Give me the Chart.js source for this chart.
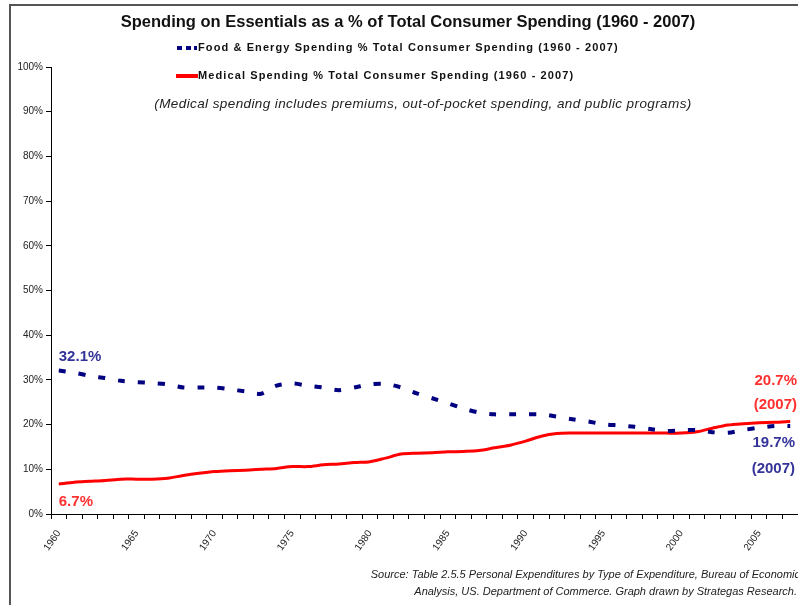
<!DOCTYPE html>
<html>
<head>
<meta charset="utf-8">
<script src="https://cdn.jsdelivr.net/npm/chart.js@4.4.0/dist/chart.umd.min.js"></script>
<style>
  html, body { margin: 0; padding: 0; background: #fff; }
  #wrap { position: relative; width: 798px; height: 605px; }
</style>
</head>
<body>
<div id="wrap"><canvas id="essentialsChart" width="798" height="605"></canvas></div>
<script>
// Dados (1960 - 2007)
const years = [];
for (let y = 1960; y <= 2007; y++) years.push(String(y));

const foodEnergy = [32.1, 31.6, 30.9, 30.4, 29.8, 29.5, 29.3, 29.0, 28.3, 28.3,
                    28.3, 27.9, 27.4, 26.9, 28.7, 29.2, 28.7, 28.3, 27.7, 28.3,
                    29.0, 29.1, 28.3, 27.0, 25.9, 24.8, 23.6, 22.7, 22.3, 22.3,
                    22.3, 22.3, 21.8, 21.2, 20.7, 20.1, 19.8, 19.5, 19.0, 18.6,
                    18.7, 18.8, 18.3, 18.2, 18.8, 19.3, 19.7, 19.7];
const medical = [6.7, 7.1, 7.3, 7.5, 7.8, 7.8, 7.8, 8.0, 8.6, 9.1,
                 9.5, 9.7, 9.8, 10.0, 10.2, 10.6, 10.6, 11.0, 11.2, 11.5,
                 11.7, 12.5, 13.4, 13.6, 13.7, 13.9, 14.0, 14.2, 14.8, 15.4,
                 16.3, 17.4, 18.0, 18.1, 18.1, 18.1, 18.1, 18.1, 18.1, 18.1,
                 18.1, 18.4, 19.2, 19.9, 20.2, 20.4, 20.5, 20.7];
const yTicks = [0, 10, 20, 30, 40, 50, 60, 70, 80, 90, 100];

const titleText = 'Spending on Essentials as a % of Total Consumer Spending (1960 - 2007)';
const legendFood = 'Food & Energy Spending % Total Consumer Spending (1960 - 2007)';
const legendMed = 'Medical Spending % Total Consumer Spending (1960 - 2007)';
const noteText = '(Medical spending includes premiums, out-of-pocket spending, and public programs)';
const sourceLines = ['Source: Table 2.5.5 Personal Expenditures by Type of Expenditure, Bureau of Economic',
                     'Analysis, US. Department of Commerce. Graph drawn by Strategas Research.'];

const NAVY = '#000080';
const RED = '#ff0000';
const FONT = '"Liberation Sans", Arial, sans-serif';

// Plugin que desenha moldura, título, legenda, nota, rótulos e fonte
const decorPlugin = {
    id: 'decor',
    afterDraw(chart) {
        const ctx = chart.ctx;
        const xs = chart.scales.x, ys = chart.scales.y;
        ctx.save();

        // moldura cinza (topo e esquerda)
        ctx.fillStyle = '#555';
        ctx.fillRect(9, 4, 789, 2);
        ctx.fillRect(9, 4, 2, 601);

        // título
        ctx.fillStyle = '#111';
        ctx.textAlign = 'center';
        ctx.textBaseline = 'middle';
        ctx.font = 'bold 16.5px ' + FONT;
        ctx.fillText(titleText, 408, 22);

        // legenda
        ctx.textAlign = 'left';
        ctx.font = 'bold 11px ' + FONT;
        ctx.letterSpacing = '1.1px';
        ctx.fillStyle = NAVY;
        [177, 186, 194].forEach(x => ctx.fillRect(x, 46, x === 194 ? 3 : 5, 4));
        ctx.fillStyle = '#111';
        ctx.fillText(legendFood, 198, 48);
        ctx.fillStyle = RED;
        ctx.fillRect(176, 74, 22, 4);
        ctx.fillStyle = '#111';
        ctx.fillText(legendMed, 198, 76);

        // nota em itálico
        ctx.textAlign = 'center';
        ctx.font = 'italic 13.5px ' + FONT;
        ctx.letterSpacing = '0.4px';
        ctx.fillStyle = '#222';
        ctx.fillText(noteText, 423, 104);
        ctx.letterSpacing = '0px';

        // rótulos dos valores
        const first = 0, last = years.length - 1;
        ctx.font = 'bold 15px ' + FONT;
        ctx.textAlign = 'left';
        ctx.fillStyle = '#33339a';
        ctx.fillText(foodEnergy[first].toFixed(1) + '%', xs.getPixelForValue(first), ys.getPixelForValue(foodEnergy[first]) - 14);
        ctx.fillStyle = '#ff3030';
        ctx.fillText(medical[first].toFixed(1) + '%', xs.getPixelForValue(first), ys.getPixelForValue(medical[first]) + 18);

        ctx.textAlign = 'right';
        const rx = 797;
        ctx.fillStyle = '#ff3030';
        const my = ys.getPixelForValue(medical[last]);
        ctx.fillText(medical[last].toFixed(1) + '%', rx, my - 41);
        ctx.fillText('(' + years[last] + ')', rx, my - 17);
        ctx.fillStyle = '#33339a';
        const fy = ys.getPixelForValue(foodEnergy[last]);
        ctx.fillText(foodEnergy[last].toFixed(1) + '%', rx - 2, fy + 17);
        ctx.fillText('(' + years[last] + ')', rx - 2, fy + 43);

        // fonte
        ctx.font = 'italic 11px ' + FONT;
        ctx.fillStyle = '#222';
        ctx.fillText(sourceLines[0], 800, 575);
        ctx.fillText(sourceLines[1], 797, 592);

        ctx.restore();
    }
};

const chartConfig = {
    type: 'line',
    data: {
        labels: years,
        datasets: [{
            label: legendFood,
            data: foodEnergy,
            borderColor: NAVY,
            borderWidth: 4,
            borderDash: [7, 13],
            borderCapStyle: 'butt',
            tension: 0.3,
            pointRadius: 0,
            fill: false
        }, {
            label: legendMed,
            data: medical,
            borderColor: RED,
            borderWidth: 3,
            tension: 0.3,
            pointRadius: 0,
            fill: false
        }]
    },
    options: {
        responsive: false,
        animation: false,
        layout: { padding: { top: 67, left: 0, right: 0, bottom: 0 } },
        plugins: {
            legend: { display: false },
            tooltip: { enabled: false }
        },
        scales: {
            x: {
                offset: true,
                grid: { offset: true, drawOnChartArea: false, drawTicks: true, tickLength: 5, color: '#000' },
                border: { display: true, color: '#000', width: 1 },
                ticks: {
                    autoSkip: false,
                    minRotation: 55,
                    maxRotation: 55,
                    color: '#222',
                    font: { family: FONT, size: 10 },
                    padding: 9,
                    callback: (v, i) => (Number(years[i]) % 5 === 0 ? years[i] : '')
                },
                afterFit: scale => {
                    scale.height = 91;
                    scale.paddingLeft = 0;
                    scale.paddingRight = 0;
                }
            },
            y: {
                min: 0,
                max: 100,
                afterBuildTicks: scale => { scale.ticks = yTicks.map(v => ({ value: v })); },
                grid: { drawOnChartArea: false, drawTicks: true, tickLength: 5, color: '#000' },
                border: { display: true, color: '#000', width: 1 },
                ticks: {
                    color: '#222',
                    font: { family: FONT, size: 10 },
                    padding: 3,
                    callback: v => v + '%'
                },
                afterFit: scale => { scale.width = 51; }
            }
        }
    },
    plugins: [decorPlugin]
};

const essentialsChart = new Chart(document.getElementById('essentialsChart'), chartConfig);
</script>
</body>
</html>
